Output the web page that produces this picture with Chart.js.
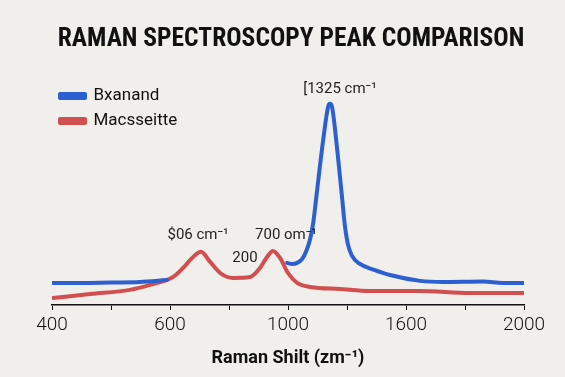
<!DOCTYPE html>
<html>
<head>
<meta charset="utf-8">
<script src="https://cdn.jsdelivr.net/npm/chart.js@4/dist/chart.umd.min.js"></script>
<style>
  html, body { margin: 0; padding: 0; background: #f0efeb; }
  #wrap { width: 565px; height: 377px; }
</style>
</head>
<body>
<div id="wrap"><canvas id="c" width="565" height="377"></canvas></div>
<script>
// ---- data ----
const chartTitle = 'RAMAN SPECTROSCOPY PEAK COMPARISON';
const xAxisTitle = 'Raman Shilt (zm\u207B\u00B9)';
const seriesNames = ['Bxanand', 'Macsseitte'];

// x positions on the (evenly spaced) display axis, and intensities
const blueX = [403, 495, 597, 698, 790, null, 1197, 1214, 1231, 1248, 1261, 1275, 1285, 1295, 1305, 1320, 1336, 1342, 1349, 1366, 1383, 1393, 1403, 1417, 1444, 1492, 1546, 1648, 1725, 1861, 1929, 2000];
const blueY = [9.8, 9.8, 10.0, 10.2, 11.1, null, 18.7, 18.2, 18.7, 20.4, 23.6, 29.3, 36.0, 46.7, 58.0, 74.0, 88.0, 89.3, 88.0, 70.0, 48.0, 35.0, 27.0, 21.8, 18.2, 15.6, 13.3, 10.7, 10.2, 10.4, 9.8, 9.8];

const redX = [403, 529, 664, 732, 810, 844, 875, 905, 936, 970, 1014, 1071, 1105, 1129, 1149, 1173, 1200, 1231, 1275, 1376, 1478, 1648, 1817, 2000];
const redY = [3.1, 4.9, 6.7, 8.9, 12.4, 16.4, 20.9, 23.6, 19.1, 14.2, 12.0, 12.4, 16.4, 21.3, 24.0, 20.9, 14.2, 9.8, 8.0, 7.1, 6.2, 6.2, 5.3, 5.3];

// x-axis tick values and their printed labels
const tickValues = [400, 800, 1200, 1600, 2000];
const tickLabels = ['400', '600', '1000', '1600', '2000'];

// peak annotations
const noteTexts = ['$06 cm\u207B\u00B9', '700 om\u207B\u00B9', '200', '[1325 cm\u207B\u00B9'];
const noteX = [895, 1193, 1054, 1376];
const noteY = [31.1, 31.1, 20.9, 95.6];

// ---- chart ----
const BLUE = '#2c5fd0';
const RED = '#d24f4f';

function toPoints(xs, ys) {
  return xs.map((x, i) => (x === null ? { x: null, y: null } : { x: x, y: ys[i] }));
}

const bgPlugin = {
  id: 'bg',
  beforeDraw(chart) {
    const ctx = chart.ctx;
    ctx.save();
    ctx.fillStyle = '#f0efeb';
    ctx.fillRect(0, 0, chart.width, chart.height);
    ctx.restore();
    // keep the in-plot legend inside the chart area (vertical legends reset top to 0)
    const lg = chart.legend;
    if (lg) {
      const dy = chart.chartArea.top - lg.top;
      lg.top += dy;
      lg.bottom += dy;
      if (lg.legendHitBoxes) lg.legendHitBoxes.forEach(h => { h.top += dy; });
    }
  }
};

const notePlugin = {
  id: 'notes',
  afterDatasetsDraw(chart) {
    const ctx = chart.ctx;
    const xs = chart.scales.x, ys = chart.scales.y;
    ctx.save();
    ctx.font = '15px Roboto, "DejaVu Sans", sans-serif';
    ctx.fillStyle = '#1e1e1e';
    ctx.textAlign = 'center';
    ctx.textBaseline = 'middle';
    noteTexts.forEach((t, i) => {
      ctx.fillText(t, xs.getPixelForValue(noteX[i]), ys.getPixelForValue(noteY[i]));
    });
    ctx.restore();
  }
};

new Chart(document.getElementById('c'), {
  type: 'line',
  data: {
    datasets: [
      {
        label: seriesNames[0],
        data: toPoints(blueX, blueY),
        borderColor: BLUE,
        backgroundColor: BLUE,
        borderWidth: 4,
        pointRadius: 0,
        cubicInterpolationMode: 'monotone',
        spanGaps: false,
        borderCapStyle: 'round',
        borderJoinStyle: 'round'
      },
      {
        label: seriesNames[1],
        data: toPoints(redX, redY),
        borderColor: RED,
        backgroundColor: RED,
        borderWidth: 4,
        pointRadius: 0,
        cubicInterpolationMode: 'monotone',
        borderCapStyle: 'round',
        borderJoinStyle: 'round'
      }
    ]
  },
  options: {
    responsive: false,
    animation: false,
    devicePixelRatio: 1,
    layout: { padding: { left: 17, right: 0, top: 0, bottom: 0 } },
    plugins: {
      title: {
        display: true,
        text: chartTitle,
        color: '#111',
        font: { family: '"Liberation Sans Narrow", "Roboto Condensed", "DejaVu Sans Condensed", Roboto, sans-serif', size: 25.5, weight: 'bold' },
        padding: { top: 24, bottom: 25 }
      },
      legend: {
        position: 'chartArea',
        align: 'start',
        labels: {
          boxWidth: 25,
          boxHeight: 4,
          padding: 8,
          color: '#111',
          font: { family: 'Roboto, sans-serif', size: 17, weight: 'normal' }
        }
      },
      tooltip: { enabled: false }
    },
    scales: {
      x: {
        type: 'linear',
        min: 400,
        max: 2000,
        afterBuildTicks(scale) {
          const t = [];
          for (let v = 400; v <= 2000; v += 200) t.push({ value: v });
          scale.ticks = t;
        },
        afterFit(scale) { scale.height = 72; },
        ticks: {
          autoSkip: false,
          maxRotation: 0,
          padding: 4,
          color: '#111',
          font: { family: 'Roboto, sans-serif', size: 19, weight: '300' },
          callback(v) {
            const i = tickValues.indexOf(v);
            return i >= 0 ? tickLabels[i] : '';
          }
        },
        grid: {
          display: true,
          drawOnChartArea: false,
          drawTicks: true,
          tickLength: 5,
          color: '#111',
          lineWidth: 1
        },
        border: { display: true, color: '#111', width: 1.5 },
        title: {
          display: true,
          text: xAxisTitle,
          color: '#111',
          font: { family: 'Roboto, sans-serif', size: 18, weight: 'bold' },
          padding: { top: 4, bottom: 8 }
        }
      },
      y: {
        type: 'linear',
        position: 'left',
        min: 0,
        max: 100,
        afterFit(scale) { scale.width = 35; },
        ticks: { display: false },
        grid: { display: false },
        border: { display: false }
      },
      y2: {
        type: 'linear',
        position: 'right',
        min: 0,
        max: 100,
        afterFit(scale) { scale.width = 41; },
        ticks: { display: false },
        grid: { display: false },
        border: { display: false }
      }
    }
  },
  plugins: [bgPlugin, notePlugin]
});
</script>
</body>
</html>
